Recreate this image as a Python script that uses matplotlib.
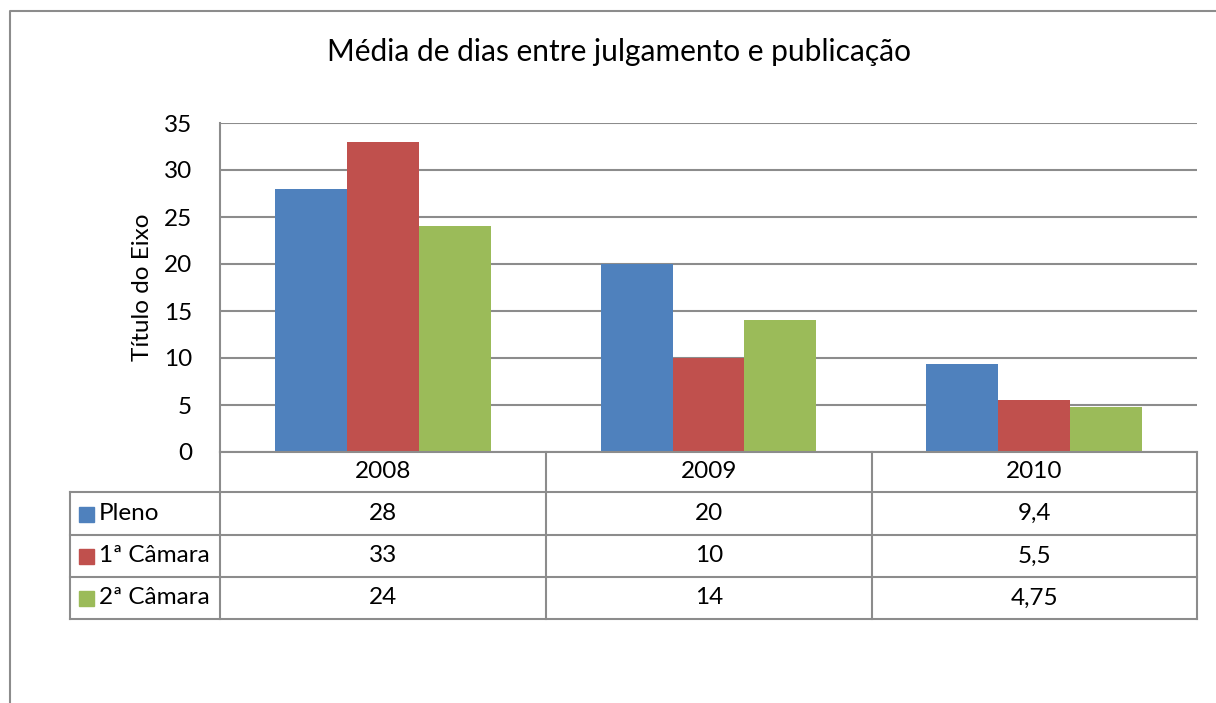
import matplotlib
matplotlib.use("Agg")
import matplotlib.pyplot as plt
import numpy as np

plt.rcParams['font.family'] = ['Lato', 'DejaVu Sans']

years = ['2008', '2009', '2010']
series_names = ['Pleno', '1ª Câmara', '2ª Câmara']
pleno = [28, 20, 9.4]
camara1 = [33, 10, 5.5]
camara2 = [24, 14, 4.75]
colors = ['#4F81BD', '#C0504D', '#9BBB59']
title = "Média de dias entre julgamento e publicação"
y_label = "Título do Eixo"
y_ticks = [0, 5, 10, 15, 20, 25, 30, 35]

W, H = 1216, 703
grid_col = '#8c8c8c'
fs = 17.5


def fmt(v):
    # excel-style decimal comma
    s = ('%g' % v).replace('.', ',')
    return s


fig = plt.figure(figsize=(W / 100, H / 100), dpi=100)

# plot area in pixel coords
left, right, top, bottom = 220, 1197, 123, 452
ax = fig.add_axes([left / W, 1 - bottom / H, (right - left) / W, (bottom - top) / H])

values = [pleno, camara1, camara2]
x = np.arange(len(years))
bw = 0.221
for i, vals in enumerate(values):
    ax.bar(x + (i - 1) * bw, vals, width=bw, color=colors[i], zorder=3)

ax.set_xlim(-0.5, len(years) - 0.5)
ax.set_ylim(0, 35)
ax.set_yticks(y_ticks)
ax.set_yticklabels([str(t) for t in y_ticks], fontsize=fs)
ax.set_xticks([])
ax.tick_params(axis='y', length=0, pad=20)
ax.grid(axis='y', color=grid_col, lw=1.5, zorder=0)
for s in ['top', 'right', 'bottom']:
    ax.spines[s].set_visible(False)
ax.spines['left'].set_color(grid_col)
ax.spines['left'].set_linewidth(1.5)
ax.set_ylabel(y_label, fontsize=fs, labelpad=8)

# overlay for title, table and border in pixel coordinates
ov = fig.add_axes([0, 0, 1, 1], facecolor='none')
ov.set_xlim(0, W)
ov.set_ylim(H, 0)
ov.axis('off')

ov.plot([10, 10, W], [H, 11, 11], color=grid_col, lw=1.5)
ov.text(619, 52, title, fontsize=21.5, ha='center', va='center')

col_x = [left, 546, 872, right]
row_y = [bottom, 492, 535, 577, 619]
lab_x0 = 70

for cx in col_x:
    ov.plot([cx, cx], [bottom, row_y[-1]], color=grid_col, lw=1.5)
ov.plot([lab_x0, lab_x0], [row_y[1], row_y[-1]], color=grid_col, lw=1.5)
ov.plot([left, right], [bottom, bottom], color=grid_col, lw=1.5)
for ry in row_y[1:]:
    ov.plot([lab_x0, right], [ry, ry], color=grid_col, lw=1.5)

for j, yr in enumerate(years):
    cx = (col_x[j] + col_x[j + 1]) / 2
    ov.text(cx, (row_y[0] + row_y[1]) / 2, yr, fontsize=fs, ha='center', va='center')
    for i, vals in enumerate(values):
        cy = (row_y[i + 1] + row_y[i + 2]) / 2
        ov.text(cx, cy, fmt(vals[j]), fontsize=fs, ha='center', va='center')

for i, name in enumerate(series_names):
    cy = (row_y[i + 1] + row_y[i + 2]) / 2
    ov.add_patch(plt.Rectangle((79, cy - 7), 15, 15, color=colors[i]))
    ov.text(99, cy, name, fontsize=fs, ha='left', va='center')

fig.savefig('out.png', dpi=100)
